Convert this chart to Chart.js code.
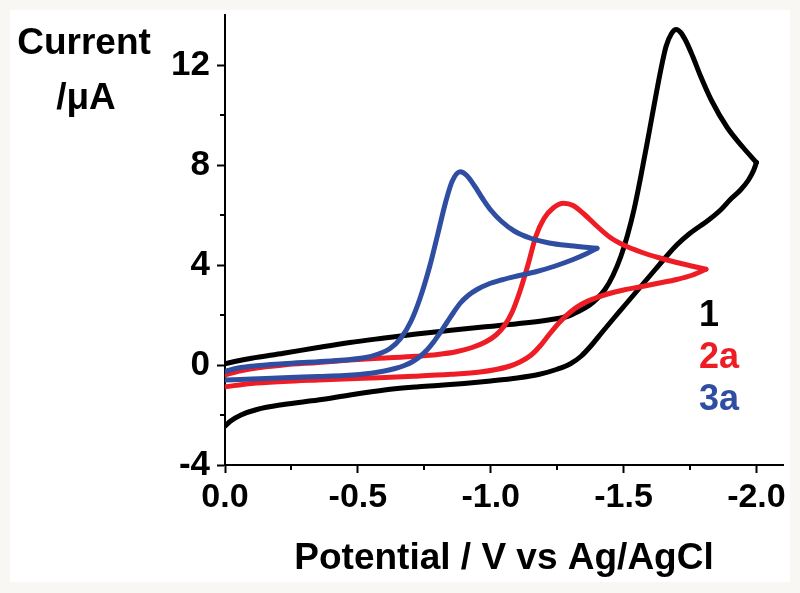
<!DOCTYPE html>
<html>
<head>
<meta charset="utf-8">
<script src="https://cdn.jsdelivr.net/npm/chart.js@4/dist/chart.umd.min.js"></script>
<style>
html,body{margin:0;padding:0;background:#f8f7f4;}
canvas{display:block;}
</style>
</head>
<body>
<canvas id="c" width="800" height="593"></canvas>
<script>
// ---- tick values ----
const xMajorTicks = [0, -0.5, -1.0, -1.5, -2.0];
const xMinorTicks = [-0.25, -0.75, -1.25, -1.75];
const yMajorTicks = [-4, 0, 4, 8, 12];
const yMinorTicks = [-2, 2, 6, 10];

// ---- series labels ----
const seriesNames = ['1', '2a', '3a'];

// ---- series 1 (black): forward scan, reverse scan ----
const s1FwdX = [0, -0.05, -0.1, -0.22, -0.35, -0.47, -0.6, -0.72, -0.85, -0.97, -1.1, -1.21, -1.29, -1.33, -1.37, -1.4, -1.43, -1.46, -1.49, -1.515, -1.54, -1.565, -1.59, -1.615, -1.64, -1.66, -1.68, -1.698, -1.715, -1.735, -1.76, -1.79, -1.83, -1.89, -1.95, -2.0];
const s1FwdY = [0.05, 0.17, 0.27, 0.47, 0.7, 0.9, 1.08, 1.24, 1.39, 1.52, 1.65, 1.79, 1.95, 2.14, 2.38, 2.65, 3.02, 3.58, 4.35, 5.2, 6.25, 7.55, 8.95, 10.4, 11.8, 12.75, 13.25, 13.42, 13.3, 12.95, 12.35, 11.55, 10.6, 9.5, 8.7, 8.1];
const s1RevX = [-2.0, -1.99, -1.97, -1.94, -1.9, -1.865, -1.82, -1.75, -1.7, -1.66, -1.62, -1.58, -1.54, -1.5, -1.46, -1.42, -1.38, -1.34, -1.3, -1.25, -1.18, -1.1, -1.0, -0.9, -0.8, -0.72, -0.6, -0.47, -0.35, -0.22, -0.12, -0.06, -0.02, 0];
const s1RevY = [8.1, 7.8, 7.4, 7.0, 6.6, 6.2, 5.8, 5.27, 4.8, 4.33, 3.83, 3.33, 2.83, 2.33, 1.83, 1.32, 0.8, 0.35, 0.05, -0.17, -0.38, -0.52, -0.64, -0.74, -0.82, -0.88, -1.0, -1.2, -1.4, -1.58, -1.78, -2.0, -2.25, -2.45];

// ---- series 2a (red) ----
const s2FwdX = [0, -0.05, -0.1, -0.22, -0.35, -0.47, -0.58, -0.72, -0.8, -0.87, -0.93, -0.98, -1.02, -1.05, -1.08, -1.11, -1.14, -1.17, -1.2, -1.235, -1.275, -1.31, -1.35, -1.4, -1.45, -1.5, -1.57, -1.63, -1.7, -1.76, -1.81];
const s2FwdY = [-0.4, -0.25, -0.15, 0.0, 0.1, 0.2, 0.27, 0.35, 0.42, 0.53, 0.7, 0.92, 1.2, 1.55, 2.1, 2.95, 4.0, 5.15, 5.85, 6.28, 6.47, 6.38, 6.05, 5.55, 5.1, 4.8, 4.5, 4.3, 4.1, 3.95, 3.83];
const s2RevX = [-1.81, -1.76, -1.7, -1.63, -1.56, -1.5, -1.44, -1.39, -1.34, -1.3, -1.26, -1.22, -1.185, -1.15, -1.11, -1.07, -1.02, -0.96, -0.85, -0.71, -0.58, -0.47, -0.35, -0.22, -0.1, 0];
const s2RevY = [3.83, 3.6, 3.42, 3.27, 3.12, 3.0, 2.84, 2.66, 2.42, 2.12, 1.72, 1.22, 0.75, 0.38, 0.12, -0.05, -0.18, -0.28, -0.37, -0.45, -0.51, -0.55, -0.6, -0.66, -0.74, -0.87];

// ---- series 3a (blue) ----
const s3FwdX = [0, -0.05, -0.1, -0.22, -0.35, -0.45, -0.53, -0.58, -0.62, -0.66, -0.7, -0.735, -0.77, -0.8, -0.83, -0.855, -0.885, -0.91, -0.94, -0.97, -1.0, -1.04, -1.09, -1.15, -1.22, -1.3, -1.4];
const s3FwdY = [-0.25, -0.12, -0.05, 0.05, 0.13, 0.2, 0.3, 0.45, 0.65, 1.05, 1.75, 2.7, 3.93, 5.2, 6.5, 7.35, 7.73, 7.58, 7.15, 6.65, 6.2, 5.75, 5.35, 5.07, 4.88, 4.77, 4.67];
const s3RevX = [-1.4, -1.36, -1.31, -1.24, -1.17, -1.1, -1.04, -0.99, -0.95, -0.915, -0.885, -0.86, -0.835, -0.81, -0.785, -0.76, -0.735, -0.705, -0.675, -0.64, -0.6, -0.55, -0.45, -0.35, -0.22, -0.1, 0];
const s3RevY = [4.67, 4.45, 4.22, 3.95, 3.73, 3.56, 3.4, 3.23, 3.03, 2.78, 2.47, 2.1, 1.7, 1.3, 0.92, 0.6, 0.35, 0.13, -0.02, -0.14, -0.24, -0.33, -0.42, -0.46, -0.51, -0.56, -0.6];

const colors = ['#000000', '#ee1d25', '#2f4ea2'];
const toPts = (xs, ys) => xs.map((x, i) => ({x: x, y: ys[i]}));
const FONT = "'Liberation Sans', Arial, Helvetica, sans-serif";

const bgPlugin = {
  id: 'bg',
  beforeDraw(chart) {
    const ctx = chart.ctx;
    ctx.save();
    ctx.fillStyle = '#f8f7f4';
    ctx.fillRect(0, 0, chart.width, chart.height);
    ctx.fillStyle = '#ffffff';
    ctx.fillRect(10, 10, 780, 572);
    ctx.restore();
  }
};

const extrasPlugin = {
  id: 'extras',
  afterDraw(chart) {
    const ctx = chart.ctx;
    const xs = chart.scales.x, ys = chart.scales.y;
    const ca = chart.chartArea;
    ctx.save();
    ctx.strokeStyle = '#000';
    ctx.lineWidth = 2;
    ctx.beginPath();
    xMinorTicks.forEach(v => {
      const px = Math.round(xs.getPixelForValue(v));
      ctx.moveTo(px, ca.bottom);
      ctx.lineTo(px, ca.bottom + 5);
    });
    yMinorTicks.forEach(v => {
      const py = Math.round(ys.getPixelForValue(v));
      ctx.moveTo(ca.left, py);
      ctx.lineTo(ca.left - 5, py);
    });
    ctx.stroke();

    // y-axis title (horizontal, two lines)
    ctx.fillStyle = '#000';
    ctx.font = "bold 37px " + FONT;
    ctx.textAlign = 'center';
    ctx.textBaseline = 'alphabetic';
    ctx.fillText('Current', 84, 54);
    ctx.fillText('/\u03BCA', 86, 109);

    // series labels
    ctx.textAlign = 'left';
    ctx.font = "bold 36px " + FONT;
    const lx = ca.right - 84;
    const baseY = [326, 368, 410];
    seriesNames.forEach((n, i) => {
      ctx.fillStyle = colors[i];
      ctx.fillText(n, lx, baseY[i]);
    });
    ctx.restore();
  }
};

const lineDs = (label, pts, color, order) => ({
  label: label, data: pts, showLine: true, borderColor: color, backgroundColor: color,
  borderWidth: 5, pointRadius: 0, cubicInterpolationMode: 'monotone', fill: false, order: order,
  borderJoinStyle: 'round', borderCapStyle: 'round'
});

new Chart(document.getElementById('c'), {
  type: 'scatter',
  data: {
    datasets: [
      lineDs(seriesNames[0], toPts(s1FwdX, s1FwdY), colors[0], 3),
      lineDs(seriesNames[0], toPts(s1RevX, s1RevY), colors[0], 3),
      lineDs(seriesNames[1], toPts(s2FwdX, s2FwdY), colors[1], 2),
      lineDs(seriesNames[1], toPts(s2RevX, s2RevY), colors[1], 2),
      lineDs(seriesNames[2], toPts(s3FwdX, s3FwdY), colors[2], 1),
      lineDs(seriesNames[2], toPts(s3RevX, s3RevY), colors[2], 1)
    ]
  },
  options: {
    responsive: false,
    devicePixelRatio: 1,
    animation: false,
    layout: {padding: {left: 0, right: 17, top: 15, bottom: 0}},
    plugins: {legend: {display: false}, tooltip: {enabled: false}},
    scales: {
      x: {
        type: 'linear', position: 'bottom', min: -2.1, max: 0, reverse: true,
        afterBuildTicks: s => { s.ticks = xMajorTicks.map(v => ({value: v})); },
        afterFit: s => { s.height = 128; s.paddingLeft = 0; s.paddingRight = 0; },
        grid: {drawOnChartArea: false, tickLength: 8, tickWidth: 2, tickColor: '#000'},
        border: {display: true, color: '#000', width: 2},
        ticks: {
          color: '#000', font: {family: FONT, size: 34, weight: 'bold'}, padding: 4,
          maxRotation: 0, autoSkip: false,
          callback: v => Number(v).toFixed(1)
        },
        title: {display: true, text: 'Potential / V vs Ag/AgCl', color: '#000',
          font: {family: FONT, size: 37, weight: 'bold'}, padding: {top: 0, bottom: 12}}
      },
      y: {
        type: 'linear', position: 'left', min: -4, max: 14,
        afterBuildTicks: s => { s.ticks = yMajorTicks.map(v => ({value: v})); },
        afterFit: s => { s.width = 225; s.paddingTop = 0; s.paddingBottom = 0; },
        grid: {drawOnChartArea: false, tickLength: 8, tickWidth: 2, tickColor: '#000'},
        border: {display: true, color: '#000', width: 2},
        ticks: {color: '#000', font: {family: FONT, size: 35, weight: 'bold'}, padding: 7,
          autoSkip: false, callback: v => String(v)}
      }
    }
  },
  plugins: [bgPlugin, extrasPlugin]
});
</script>
</body>
</html>
